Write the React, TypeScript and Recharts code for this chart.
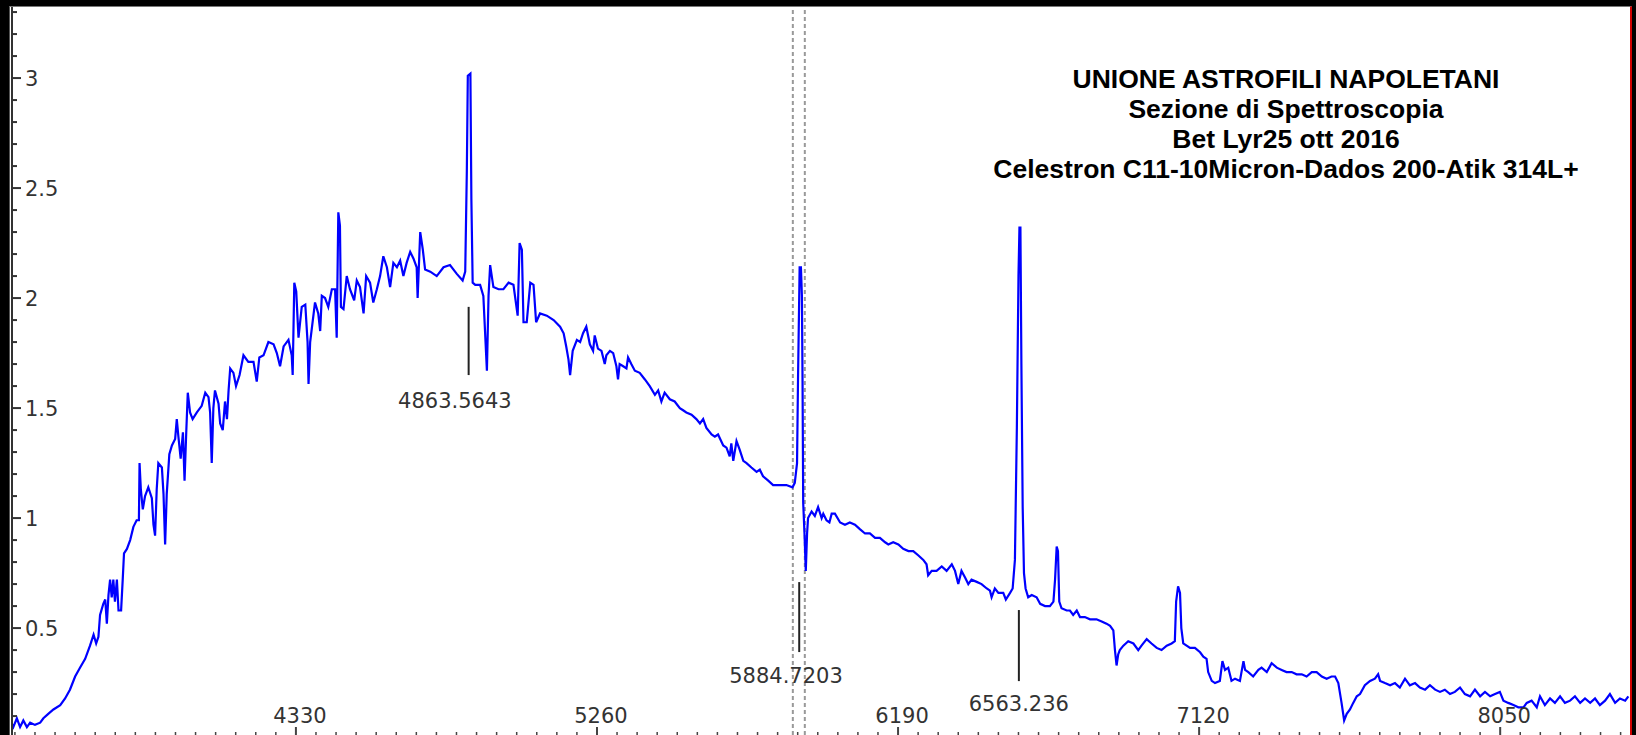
import { Line, LineChart, ReferenceDot, ReferenceLine, XAxis, YAxis } from "recharts";

// Bet Lyr spectrum, 25 ott 2016 - wavelength (A) vs relative flux
const titleLines = [
  "UNIONE ASTROFILI NAPOLETANI",
  "Sezione di Spettroscopia",
  "Bet Lyr25 ott 2016",
  "Celestron C11-10Micron-Dados 200-Atik 314L+",
];

const xMajorTicks = [4330, 5260, 6190, 7120, 8050];
const xMinorStep = 62;
const yMajorTicks = [0.5, 1, 1.5, 2, 2.5, 3];
const yMinorStep = 0.1;
const xDomain = [3453, 8451];
const yDomain = [0.014, 3.323];

const sodiumMarks = [5865, 5902];

const lineIds = [
  { label: "4863.5643", at: 4863.5643, top: 1.96, bottom: 1.65, labelX: 4821, labelY: 1.536 },
  { label: "5884.7203", at: 5884.7203, top: 0.709, bottom: 0.391, labelX: 5844, labelY: 0.286 },
  { label: "6563.236", at: 6563.236, top: 0.582, bottom: 0.259, labelX: 6563, labelY: 0.159 },
];

const specUV: [number, number][] = [
  [3447, 0.08], [3457, 0.05], [3468, 0.09], [3478, 0.05], [3488, 0.08], [3499, 0.05],
  [3509, 0.07], [3524, 0.06], [3540, 0.07], [3550, 0.09], [3565, 0.11], [3581, 0.13],
  [3602, 0.15], [3617, 0.18], [3632, 0.22], [3648, 0.28], [3663, 0.32], [3679, 0.36],
  [3694, 0.42], [3705, 0.47], [3713, 0.43], [3720, 0.46], [3725, 0.56], [3735, 0.61],
  [3741, 0.63], [3746, 0.52], [3751, 0.65], [3756, 0.72], [3761, 0.64], [3766, 0.72],
  [3771, 0.62], [3777, 0.72], [3782, 0.58], [3790, 0.58], [3795, 0.72], [3799, 0.84],
  [3808, 0.86], [3818, 0.9], [3828, 0.96], [3838, 0.99], [3845, 0.99], [3847, 1.25],
  [3851, 1.13], [3857, 1.04], [3864, 1.1], [3874, 1.14], [3885, 1.09], [3890, 0.97],
  [3895, 0.92], [3900, 1.13], [3905, 1.25], [3916, 1.23], [3921, 1.11], [3926, 0.88],
  [3931, 1.11], [3939, 1.29], [3947, 1.33], [3957, 1.36], [3962, 1.45], [3967, 1.37],
  [3974, 1.27], [3981, 1.39], [3986, 1.17], [3991, 1.38], [3996, 1.57], [4003, 1.48],
  [4011, 1.45], [4024, 1.48], [4039, 1.51], [4050, 1.57], [4060, 1.55], [4065, 1.48],
  [4070, 1.25], [4075, 1.5], [4080, 1.58], [4091, 1.52], [4096, 1.43], [4104, 1.4],
  [4111, 1.53], [4117, 1.45], [4122, 1.58], [4127, 1.68], [4137, 1.66], [4145, 1.6],
  [4156, 1.65], [4168, 1.74], [4183, 1.71], [4199, 1.71], [4209, 1.62], [4217, 1.73],
  [4230, 1.74], [4245, 1.8], [4261, 1.79], [4271, 1.75], [4281, 1.69], [4292, 1.78],
  [4307, 1.81], [4317, 1.74], [4320, 1.65], [4325, 2.07], [4331, 2.03], [4338, 1.82],
  [4348, 1.96], [4359, 1.97], [4366, 1.8], [4369, 1.61], [4374, 1.8],
];

const specBlue: [number, number][] = [
  [4389, 1.98], [4399, 1.93], [4405, 1.85], [4410, 2.01], [4420, 2.0], [4430, 1.96],
  [4441, 2.04], [4451, 2.04], [4456, 1.82], [4461, 2.39], [4466, 2.33], [4469, 1.96],
  [4477, 1.95], [4487, 2.1], [4497, 2.04], [4510, 1.99], [4518, 2.08], [4528, 2.05],
  [4539, 1.93], [4547, 2.1], [4559, 2.07], [4569, 1.98], [4580, 2.04], [4590, 2.1],
  [4600, 2.19], [4611, 2.14], [4621, 2.05], [4631, 2.16], [4642, 2.14], [4652, 2.17],
  [4662, 2.1], [4672, 2.16], [4683, 2.21], [4693, 2.18], [4703, 2.14], [4706, 2.0],
  [4714, 2.3], [4722, 2.22], [4729, 2.13], [4745, 2.12], [4765, 2.1], [4786, 2.14],
  [4806, 2.15], [4827, 2.11], [4845, 2.08], [4853, 2.12], [4858, 2.58], [4861, 3.01],
  [4869, 3.02], [4872, 2.45], [4876, 2.07], [4884, 2.06], [4899, 2.06], [4909, 2.01],
  [4920, 1.67], [4925, 2.01], [4930, 2.15], [4940, 2.05], [4956, 2.04], [4971, 2.04],
  [4987, 2.07], [5002, 2.06], [5015, 1.92], [5021, 2.25], [5028, 2.22], [5033, 1.89],
  [5043, 1.89], [5054, 2.07], [5064, 2.06], [5072, 1.89], [5084, 1.93], [5105, 1.92],
  [5126, 1.9], [5146, 1.87], [5157, 1.84], [5165, 1.78], [5172, 1.72], [5177, 1.65],
  [5185, 1.76], [5198, 1.81], [5208, 1.8],
];

const specGreen: [number, number][] = [
  [5217, 1.84], [5227, 1.87], [5238, 1.79], [5248, 1.76], [5253, 1.83], [5263, 1.77],
  [5274, 1.76], [5284, 1.7], [5289, 1.74], [5300, 1.76], [5310, 1.75], [5320, 1.69],
  [5325, 1.63], [5330, 1.7], [5341, 1.69], [5351, 1.68], [5356, 1.73], [5366, 1.7],
  [5377, 1.67], [5392, 1.66], [5408, 1.63], [5423, 1.6], [5439, 1.56], [5449, 1.58],
  [5459, 1.53], [5469, 1.57], [5485, 1.54], [5500, 1.53], [5516, 1.5], [5526, 1.49],
  [5536, 1.48], [5552, 1.47], [5567, 1.45], [5578, 1.43], [5588, 1.45], [5598, 1.41],
  [5614, 1.38], [5624, 1.37], [5634, 1.38], [5650, 1.33], [5660, 1.32], [5670, 1.28],
  [5675, 1.34], [5681, 1.26], [5691, 1.35], [5701, 1.31], [5712, 1.26], [5722, 1.25],
  [5737, 1.23], [5753, 1.21], [5763, 1.22], [5773, 1.19], [5789, 1.17], [5804, 1.15],
  [5825, 1.15], [5845, 1.15], [5864, 1.14], [5871, 1.16], [5878, 1.25], [5881, 1.63],
  [5886, 2.14], [5890, 2.14], [5893, 2.01], [5895, 1.62], [5897, 1.07], [5901, 0.93],
  [5905, 0.76], [5909, 0.93], [5912, 1.0], [5923, 1.03], [5933, 1.01], [5943, 1.05],
];

const specRed: [number, number][] = [
  [5954, 1.0], [5959, 1.02], [5969, 0.99], [5978, 0.98], [5985, 1.02], [5995, 1.02],
  [6011, 0.98], [6026, 0.97], [6041, 0.98], [6057, 0.97], [6072, 0.95], [6088, 0.93],
  [6103, 0.93], [6119, 0.91], [6134, 0.91], [6150, 0.89], [6160, 0.88], [6175, 0.89],
  [6191, 0.88], [6206, 0.86], [6222, 0.85], [6237, 0.85], [6253, 0.83], [6268, 0.81],
  [6278, 0.79], [6283, 0.74], [6294, 0.76], [6309, 0.76], [6325, 0.78], [6340, 0.76],
  [6356, 0.79], [6366, 0.76], [6376, 0.7], [6386, 0.76], [6397, 0.73], [6407, 0.7],
  [6417, 0.72], [6433, 0.71], [6448, 0.7], [6464, 0.68], [6474, 0.67], [6479, 0.64],
  [6489, 0.68], [6500, 0.66], [6515, 0.66], [6523, 0.63], [6536, 0.66], [6544, 0.68],
  [6551, 0.81], [6557, 1.41], [6562, 2.1], [6565, 2.32], [6568, 2.32], [6571, 1.7],
  [6575, 1.05], [6579, 0.75], [6584, 0.68], [6592, 0.64], [6603, 0.65], [6618, 0.64],
  [6629, 0.61], [6644, 0.6], [6659, 0.6], [6670, 0.62], [6675, 0.72], [6680, 0.87],
  [6684, 0.85], [6688, 0.62], [6695, 0.59], [6711, 0.58], [6721, 0.58],
];

const specIR: [number, number][] = [
  [6731, 0.56], [6742, 0.58], [6752, 0.55], [6767, 0.55], [6783, 0.54], [6803, 0.54],
  [6819, 0.53], [6834, 0.52], [6845, 0.51], [6855, 0.49], [6860, 0.4], [6865, 0.33],
  [6870, 0.38], [6875, 0.4], [6886, 0.42], [6901, 0.44], [6917, 0.43], [6932, 0.4],
  [6942, 0.42], [6958, 0.45], [6973, 0.43], [6989, 0.41], [7004, 0.4], [7020, 0.42],
  [7035, 0.43], [7045, 0.44], [7049, 0.62], [7055, 0.69], [7061, 0.66], [7065, 0.5],
  [7071, 0.43], [7092, 0.41], [7107, 0.41], [7123, 0.39], [7133, 0.37], [7143, 0.36],
  [7148, 0.3], [7159, 0.26], [7169, 0.25], [7184, 0.26], [7192, 0.35], [7200, 0.31],
  [7210, 0.32], [7220, 0.26], [7231, 0.27], [7246, 0.26], [7257, 0.35], [7262, 0.31],
  [7272, 0.3], [7287, 0.28], [7303, 0.31], [7313, 0.32], [7329, 0.3], [7344, 0.34],
  [7360, 0.32], [7375, 0.31], [7390, 0.3], [7406, 0.3], [7421, 0.29], [7437, 0.29],
  [7452, 0.28], [7468, 0.3], [7483, 0.3], [7499, 0.28], [7514, 0.27], [7529, 0.28],
  [7540, 0.28], [7550, 0.25], [7560, 0.16], [7568, 0.08], [7576, 0.11], [7586, 0.13],
  [7596, 0.16], [7607, 0.19], [7617, 0.2], [7632, 0.24], [7648, 0.26], [7663, 0.27],
  [7673, 0.29], [7679, 0.26], [7694, 0.25], [7710, 0.24], [7725, 0.25], [7740, 0.23],
  [7756, 0.27], [7771, 0.24], [7787, 0.25], [7802, 0.23], [7818, 0.22], [7833, 0.24],
  [7849, 0.22], [7864, 0.21], [7879, 0.22], [7895, 0.2], [7910, 0.21], [7926, 0.23],
  [7941, 0.2], [7957, 0.19], [7972, 0.22], [7988, 0.19], [8003, 0.21], [8019, 0.19],
  [8034, 0.2], [8049, 0.21], [8060, 0.17], [8075, 0.16], [8091, 0.15], [8106, 0.14],
  [8122, 0.14], [8132, 0.16], [8147, 0.17], [8163, 0.14], [8173, 0.19], [8188, 0.15],
  [8204, 0.18], [8219, 0.16], [8235, 0.19], [8250, 0.16], [8266, 0.17], [8281, 0.19],
  [8297, 0.16], [8312, 0.18], [8328, 0.16], [8343, 0.18], [8358, 0.15], [8374, 0.17],
  [8389, 0.2], [8405, 0.16], [8420, 0.18], [8436, 0.17], [8446, 0.19],
];

const spectrum = [...specUV, ...specBlue, ...specGreen, ...specRed, ...specIR].map(([w, f]) => ({ w, f }));

const xTicks: number[] = [];
for (let v = xMajorTicks[0]; v > xDomain[0]; v -= xMinorStep) xTicks.unshift(v);
for (let i = 0; i < xMajorTicks.length; i++) {
  for (let k = 1; k < 15; k++) {
    const v = xMajorTicks[i] + k * xMinorStep;
    if (v < xDomain[1]) xTicks.push(v);
  }
  if (i + 1 < xMajorTicks.length) xTicks.push(xMajorTicks[i + 1]);
}
const yTicks: number[] = [];
for (let k = 1; k <= 33; k++) yTicks.push(Math.round(k * yMinorStep * 10) / 10);

const W = 1636;
const H = 735;
const PLOT_LEFT = 12;
const AXIS_Y = 735;
const tickFont = { fontFamily: "DejaVu Sans", fontSize: 21, fill: "#333" };

const renderXTick = (props: any) => {
  const { x, payload } = props;
  const major = xMajorTicks.includes(payload.value);
  return (
    <g>
      <line x1={x} x2={x} y1={AXIS_Y} y2={AXIS_Y - (major ? 8 : 3)} stroke="#444" strokeWidth={major ? 2 : 1.5} />
      {major && (
        <text x={x + 4} y={716} textAnchor="middle" dominantBaseline="central" {...tickFont}>
          {payload.value}
        </text>
      )}
    </g>
  );
};

const renderYTick = (props: any) => {
  const { y, payload } = props;
  const major = yMajorTicks.some((v) => Math.abs(v - payload.value) < 1e-6);
  return (
    <g>
      <line x1={PLOT_LEFT} x2={PLOT_LEFT + (major ? 9 : 5)} y1={y} y2={y} stroke="#333" strokeWidth={2} />
      {major && (
        <text x={PLOT_LEFT + 13} y={y + 1} textAnchor="start" dominantBaseline="central" {...tickFont}>
          {payload.value}
        </text>
      )}
    </g>
  );
};

export default function App() {
  return (
    <div style={{ position: "fixed", left: 0, top: 0, width: W, height: H, background: "#000", overflow: "hidden" }}>
      <div
        style={{
          position: "absolute",
          left: 9,
          top: 6,
          width: 1620,
          height: 729,
          background: "#fff",
          borderTop: "1px solid #777",
          borderLeft: "1px solid #555",
          borderRight: "2px solid #d00000",
        }}
      />
      <div style={{ position: "absolute", left: 0, top: 0 }}>
        <LineChart width={W} height={H} data={spectrum} margin={{ top: 7, left: PLOT_LEFT, right: 6, bottom: 0 }}>
          <XAxis
            type="number"
            dataKey="w"
            domain={xDomain}
            allowDataOverflow
            mirror
            ticks={xTicks}
            interval={0}
            axisLine={false}
            tickLine={false}
            tick={renderXTick}
          />
          <YAxis
            type="number"
            domain={yDomain}
            allowDataOverflow
            mirror
            ticks={yTicks}
            interval={0}
            axisLine={{ stroke: "#333", strokeWidth: 2 }}
            tickLine={false}
            tick={renderYTick}
          />
          {sodiumMarks.map((x) => (
            <ReferenceLine key={x} x={x} stroke="#999" strokeWidth={2} strokeDasharray="4 3" />
          ))}
          <Line
            dataKey="f"
            type="linear"
            stroke="#0000ff"
            strokeWidth={2.2}
            dot={false}
            isAnimationActive={false}
          />
          {lineIds.map((m) => (
            <ReferenceLine
              key={m.label}
              segment={[
                { x: m.at, y: m.top },
                { x: m.at, y: m.bottom },
              ]}
              stroke="#222"
              strokeWidth={2}
            />
          ))}
          {lineIds.map((m) => (
            <ReferenceDot
              key={"lbl" + m.label}
              x={m.labelX}
              y={m.labelY}
              r={0}
              fill="none"
              stroke="none"
              label={{ value: m.label, position: "center", ...tickFont }}
            />
          ))}
        </LineChart>
      </div>
      <div
        style={{
          position: "absolute",
          left: 1286 - 400,
          top: 64,
          width: 800,
          textAlign: "center",
          fontFamily: "'Liberation Sans', Arial, sans-serif",
          fontWeight: "bold",
          fontSize: 26.5,
          lineHeight: "30px",
          color: "#000",
        }}
      >
        {titleLines.map((t) => (
          <div key={t}>{t}</div>
        ))}
      </div>
    </div>
  );
}
